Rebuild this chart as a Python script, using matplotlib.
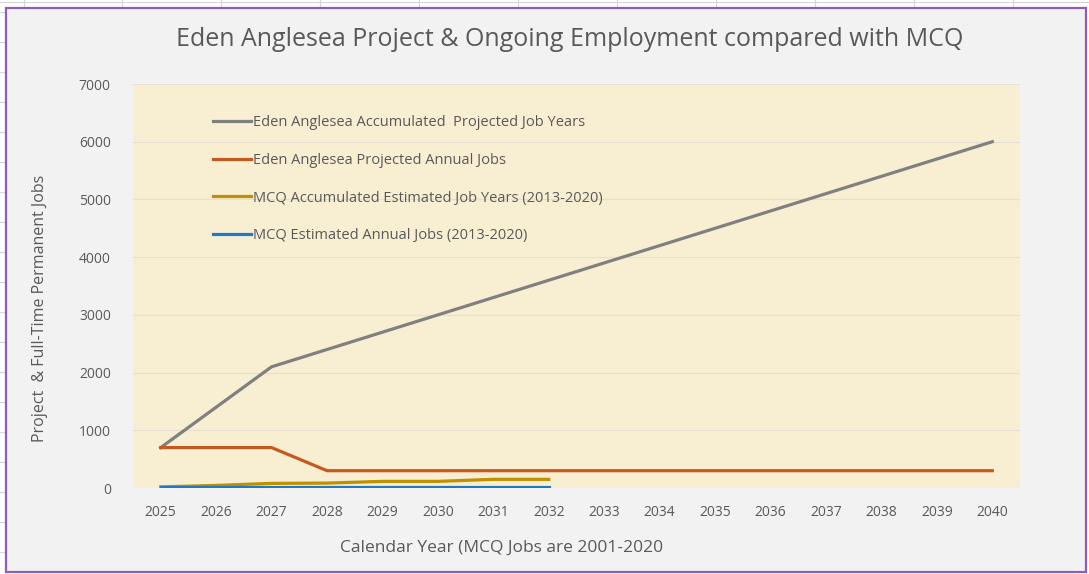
import matplotlib
matplotlib.use("Agg")
import matplotlib.pyplot as plt
from matplotlib.patches import Rectangle
from matplotlib.lines import Line2D

years = list(range(2025, 2041))
mcq_years = list(range(2025, 2033))

eden_accum = [700, 1400, 2100, 2400, 2700, 3000, 3300, 3600, 3900, 4200,
              4500, 4800, 5100, 5400, 5700, 6000]
eden_annual = [700, 700, 700, 300, 300, 300, 300, 300, 300, 300,
               300, 300, 300, 300, 300, 300]
mcq_accum = [20, 45, 80, 85, 115, 115, 150, 150]
mcq_annual = [20, 20, 20, 20, 20, 20, 20, 20]

labels = ['Eden Anglesea Accumulated  Projected Job Years',
          'Eden Anglesea Projected Annual Jobs',
          'MCQ Accumulated Estimated Job Years (2013-2020)',
          'MCQ Estimated Annual Jobs (2013-2020)']

plt.rcParams['font.family'] = ['Open Sans', 'DejaVu Sans']

W, H = 1089, 574
fig = plt.figure(figsize=(W / 100, H / 100), dpi=100)
fig.patch.set_facecolor('white')

# spreadsheet cell lines peeking out behind the chart
for x in [24, 122, 221, 320, 419, 518, 617, 716, 815, 914, 1013]:
    fig.lines.append(Line2D([x / W, x / W], [1 - 8 / H, 1], transform=fig.transFigure,
                            color='#D4D4D4', lw=0.8, zorder=-20))
fig.lines.append(Line2D([0, 1], [1 - 2 / H, 1 - 2 / H], transform=fig.transFigure,
                        color='#D4D4D4', lw=0.8, zorder=-20))
for y in range(12, 574, 30):
    fig.lines.append(Line2D([0, 6 / W], [1 - y / H, 1 - y / H], transform=fig.transFigure,
                            color='#D4D4D4', lw=0.8, zorder=-20))

# chart area with purple frame
fig.patches.append(Rectangle((6 / W, 2 / H), 1080 / W, 564 / H,
                             transform=fig.transFigure, facecolor='#F2F2F2',
                             edgecolor='#8E5BC0', linewidth=1.6, zorder=-10))

ax = fig.add_axes([133 / W, 1 - 488 / H, 887 / W, 404 / H])
ax.set_facecolor('#F8EFD3')

lw = 2.3
ax.plot(years, eden_accum, color='#808080', lw=lw, label=labels[0], zorder=3)
ax.plot(years, eden_annual, color='#C65A1E', lw=lw, label=labels[1], zorder=3)
ax.plot(mcq_years, mcq_accum, color='#BF9000', lw=lw, label=labels[2], zorder=3)
ax.plot(mcq_years, mcq_annual, color='#1F78C8', lw=lw, label=labels[3], zorder=4)

ax.set_xlim(2024.5, 2040.5)
ax.set_ylim(0, 7000)
ax.set_xticks(years)
ax.set_yticks(range(0, 7001, 1000))
ax.grid(axis='y', color='#E6E0D0', lw=0.9)
ax.set_axisbelow(True)
for s in ax.spines.values():
    s.set_visible(False)
ax.tick_params(length=0, colors='#595959', labelsize=10)
ax.tick_params(axis='y', pad=16)
ax.tick_params(axis='x', pad=12)

leg = ax.legend(loc='upper left', bbox_to_anchor=(0.075, 0.955), frameon=False,
                fontsize=10.5, handlelength=2.6, handletextpad=0.2,
                labelspacing=1.55, labelcolor='#595959')

fig.text(570 / W, 1 - 40 / H,
         'Eden Anglesea Project & Ongoing Employment compared with MCQ',
         ha='center', va='center', fontsize=18, color='#595959')
fig.text(502 / W, 1 - 548 / H, 'Calendar Year (MCQ Jobs are 2001-2020',
         ha='center', va='center', fontsize=12.5, color='#595959')
fig.text(40 / W, 1 - 308 / H, 'Project  & Full-Time Permanent Jobs',
         ha='center', va='center', rotation=90, fontsize=11.5, color='#595959')

plt.savefig('out.png', dpi=100, facecolor=fig.get_facecolor())
